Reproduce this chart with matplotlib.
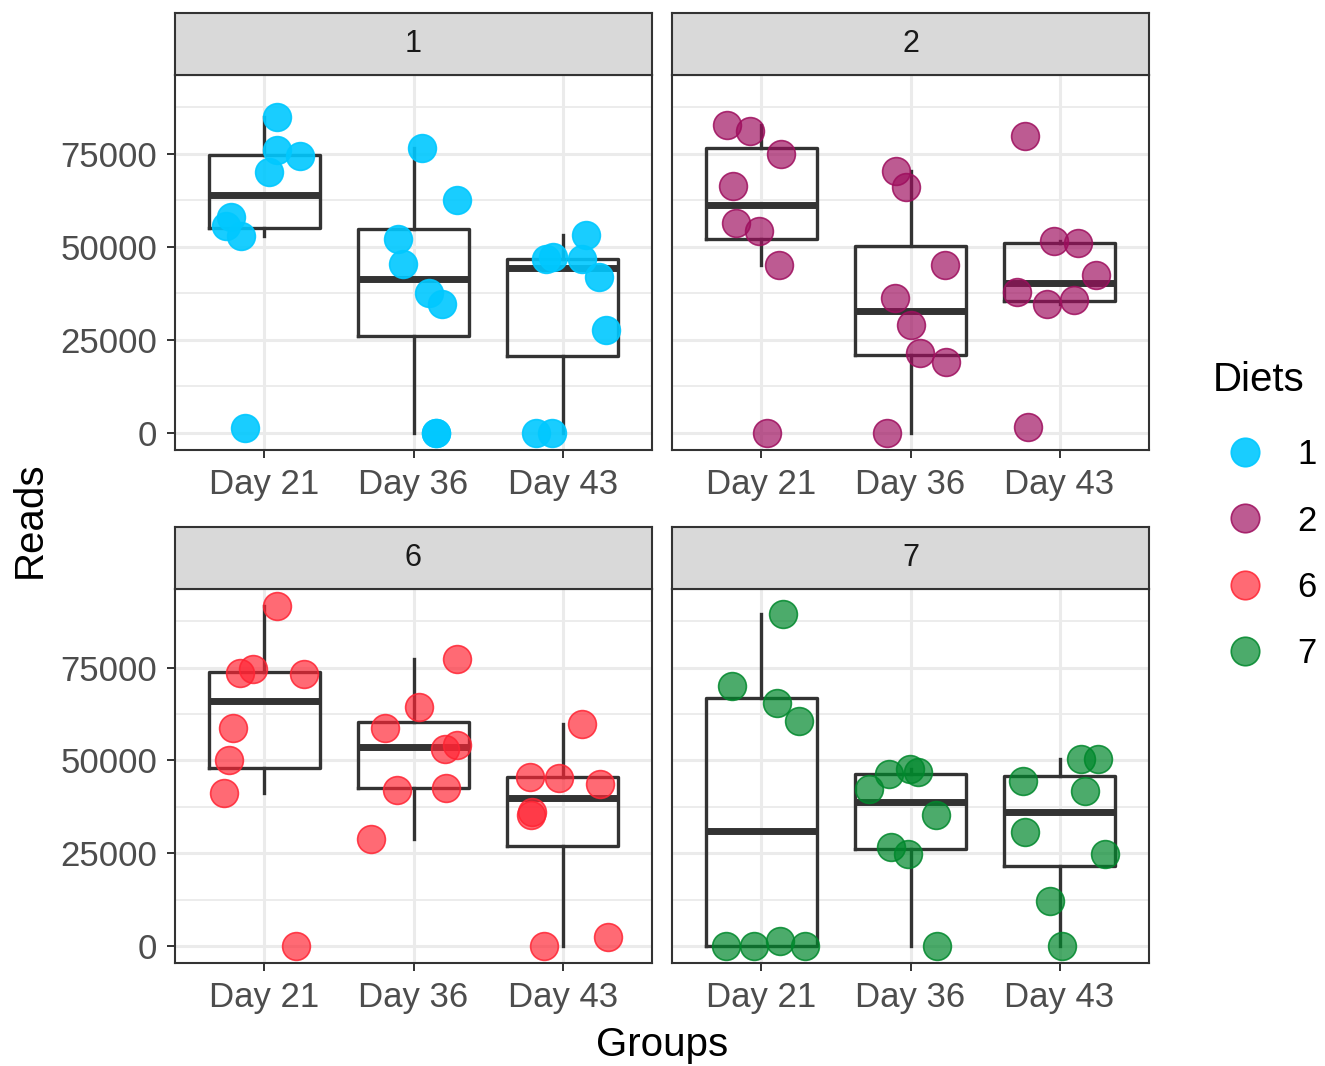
import matplotlib
matplotlib.use("Agg")
import matplotlib.pyplot as plt
from matplotlib.lines import Line2D
from matplotlib.colors import to_rgba
import numpy as np

plt.rcParams["font.family"] = ["Liberation Sans", "DejaVu Sans"]

# ---- data -------------------------------------------------------------
days = ["Day 21", "Day 36", "Day 43"]
diets = ["1", "2", "6", "7"]

reads_diet1 = [
    [84800, 76090, 74380, 70070, 57940, 55700, 52820, 1350],
    [76720, 62700, 52100, 45360, 37550, 34760, 0, 0],
    [53090, 46710, 47340, 46710, 42040, 27670, 0, 0],
]
reads_diet2 = [
    [82640, 81120, 74920, 66300, 56410, 54350, 45010, 0],
    [70430, 66030, 45100, 36380, 29100, 21560, 19040, 0],
    [79770, 51650, 50930, 42490, 38000, 34590, 35840, 1710],
]
reads_diet6 = [
    [91630, 73660, 74740, 73210, 58660, 50120, 41140, 0],
    [77250, 64500, 58840, 53000, 54260, 41950, 42670, 28750],
    [59920, 45630, 45360, 43750, 36110, 35210, 0, 2520],
]
reads_diet7 = [
    [89380, 70070, 65580, 60640, 0, 0, 1350, 0],
    [46260, 47610, 46890, 42220, 35300, 26680, 24880, 0],
    [50480, 50300, 44470, 41770, 30720, 24700, 12130, 0],
]

# horizontal jitter of each point (fraction of a category step)
jitter_diet1 = [
    [0.087, 0.083, 0.237, 0.031, -0.226, -0.260, -0.159, -0.132],
    [0.060, 0.291, -0.107, -0.072, 0.101, 0.188, 0.154, 0.150],
    [0.157, -0.112, -0.067, 0.130, 0.242, 0.291, -0.179, -0.072],
]
jitter_diet2 = [
    [-0.230, -0.074, 0.132, -0.188, -0.170, -0.018, 0.116, 0.036],
    [-0.097, -0.030, 0.229, -0.102, 0.006, 0.061, 0.238, -0.160],
    [-0.230, -0.036, 0.121, 0.246, -0.286, -0.085, 0.094, -0.212],
]
jitter_diet6 = [
    [0.083, -0.166, -0.074, 0.266, -0.210, -0.237, -0.271, 0.215],
    [0.291, 0.038, -0.190, 0.208, 0.291, -0.114, 0.217, -0.286],
    [0.130, -0.217, -0.027, 0.253, -0.208, -0.213, -0.125, 0.302],
]
jitter_diet7 = [
    [0.143, -0.197, 0.107, 0.250, -0.241, -0.051, 0.123, 0.295],
    [-0.146, -0.001, 0.048, -0.280, 0.173, -0.132, -0.017, 0.181],
    [0.145, 0.257, -0.246, 0.172, -0.235, 0.302, -0.067, 0.013],
]

y_ticks = [0, 25000, 50000, 75000]

# ---- styling ----------------------------------------------------------
reads = [reads_diet1, reads_diet2, reads_diet6, reads_diet7]
jitters = [jitter_diet1, jitter_diet2, jitter_diet6, jitter_diet7]
fills = [to_rgba("#00C8FF", 0.9), to_rgba("#9E0E5E", 0.68),
         to_rgba("#FF2433", 0.68), to_rgba("#00882C", 0.7)]
edges = [to_rgba("#00C8FF", 0.9), to_rgba("#9E0E5E", 0.85),
         to_rgba("#FF2433", 0.85), to_rgba("#00882C", 0.85)]

W, H = 1325, 1066
fig = plt.figure(figsize=(W / 100, H / 100), dpi=100)

panel_x = [175, 672]
panel_w = 477
rows = [(75, 450, 13), (589, 963, 527)]   # panel top, panel bottom, strip top

all_vals = np.concatenate([np.ravel(r) for r in reads])
ymax = all_vals.max()
ylo, yhi = -0.05 * ymax, ymax * 1.05

dark = "#333333"
grid_c = "#EBEBEB"
tick_c = "#4D4D4D"

for i, diet in enumerate(diets):
    r, c = divmod(i, 2)
    top, bot, stop = rows[r]
    x0 = panel_x[c]
    ax = fig.add_axes([x0 / W, 1 - bot / H, panel_w / W, (bot - top) / H])
    ax.set_xlim(0.4, 3.6)
    ax.set_ylim(ylo, yhi)
    ax.set_axisbelow(True)

    groups = [np.array(v, dtype=float) for v in reads[i]]
    ax.boxplot(groups, positions=[1, 2, 3], widths=0.75, whis=1.5,
               showfliers=False, showcaps=False, patch_artist=False,
               boxprops=dict(color=dark, lw=2.4),
               whiskerprops=dict(color=dark, lw=2.4),
               medianprops=dict(color=dark, lw=5.0, solid_capstyle="butt"),
               zorder=2)

    for k, vals in enumerate(reads[i]):
        xs = np.array(jitters[i][k]) + (k + 1)
        ax.scatter(xs, vals, s=400, facecolor=fills[i], edgecolor=edges[i],
                   linewidth=1.2, zorder=3)

    ax.set_xlim(0.4, 3.6)
    ax.set_xticks([1, 2, 3])
    ax.set_xticklabels(days)
    ax.set_yticks(y_ticks)
    ax.set_yticks([t + 12500 for t in y_ticks], minor=True)
    ax.set_yticklabels([str(t) for t in y_ticks] if c == 0 else [])
    ax.grid(True, which="major", color=grid_c, lw=2.2)
    ax.grid(True, which="minor", axis="y", color=grid_c, lw=1.3)
    ax.tick_params(which="major", length=5.8, width=1.4, color=dark,
                   labelsize=25, labelcolor=tick_c, pad=7)
    ax.tick_params(which="minor", length=0)
    if c == 1:
        ax.tick_params(axis="y", which="major", length=0)
    for s in ax.spines.values():
        s.set_color(dark)
        s.set_linewidth(1.5)

    # facet strip
    sax = fig.add_axes([x0 / W, 1 - top / H, panel_w / W, (top - stop) / H])
    sax.set_facecolor("#D9D9D9")
    sax.set_xticks([])
    sax.set_yticks([])
    for s in sax.spines.values():
        s.set_color(dark)
        s.set_linewidth(1.5)
    sax.text(0.5, 0.5, diet, ha="center", va="center", fontsize=22,
             color="#1A1A1A", transform=sax.transAxes)

fig.text(662 / W, 1 - 1045 / H, "Groups", ha="center", va="center", fontsize=29)
fig.text(30 / W, 1 - 520 / H, "Reads", ha="center", va="center", fontsize=29,
         rotation=90)

# legend
fig.text(1213 / W, 1 - 380 / H, "Diets", ha="left", va="center", fontsize=29)
handles = [Line2D([], [], ls="", marker="o", markersize=20.5,
                  markerfacecolor=fills[i], markeredgecolor=edges[i],
                  markeredgewidth=1.2) for i in range(len(diets))]
fig.legend(handles, diets, loc="upper left",
           bbox_to_anchor=(1193 / W, 1 - 414 / H), frameon=False,
           fontsize=25, labelspacing=0.96, handletextpad=0.7,
           handlelength=1.6, borderpad=0.2)

fig.savefig("out.png", dpi=100)
